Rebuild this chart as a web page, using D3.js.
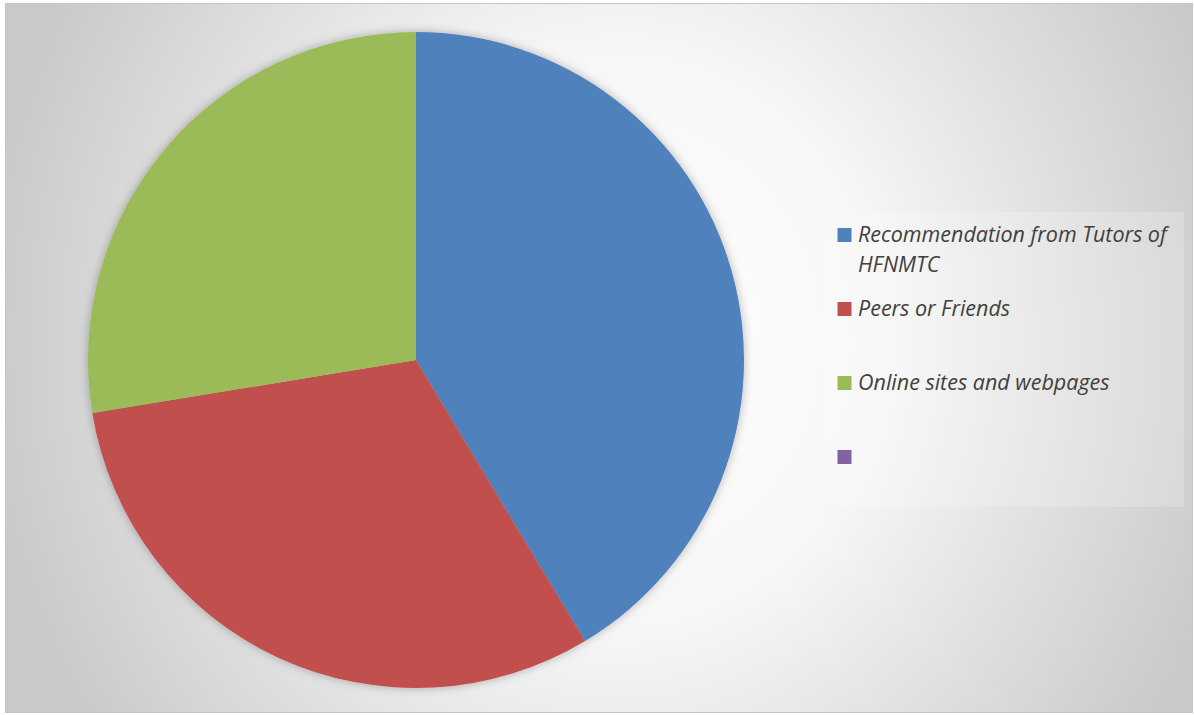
<!DOCTYPE html>
<html>
<head>
<meta charset="utf-8">
<script src="https://cdn.jsdelivr.net/npm/d3@7"></script>
<style>
  html, body { margin: 0; padding: 0; background: #ffffff; }
  svg { display: block; }
</style>
</head>
<body>
<svg id="chart" width="1194" height="715"></svg>
<script>
// data (counts, pie starts at 12 o'clock)
const categories = ['Recommendation from Tutors of HFNMTC', 'Peers or Friends', 'Online sites and webpages', ''];
const values = [12, 9, 8, 0];
const colors = ['#4F81BD', '#C0504D', '#9BBB59', '#8064A2'];

const W = 1194, H = 715;
const svg = d3.select('#chart');
const defs = svg.append('defs');

// chart area background: soft radial fill
const bg = defs.append('radialGradient')
  .attr('id', 'bgGrad')
  .attr('gradientUnits', 'userSpaceOnUse')
  .attr('cx', 0).attr('cy', 0).attr('r', 1)
  .attr('gradientTransform', 'translate(620,340) scale(640,700)');
bg.append('stop').attr('offset', 0).attr('stop-color', '#ffffff');
bg.append('stop').attr('offset', 0.42).attr('stop-color', '#f6f6f6');
bg.append('stop').attr('offset', 0.75).attr('stop-color', '#dcdcdc');
bg.append('stop').attr('offset', 1).attr('stop-color', '#c9c9c9');

const shadow = defs.append('filter')
  .attr('id', 'pieShadow')
  .attr('x', '-10%').attr('y', '-10%')
  .attr('width', '120%').attr('height', '120%');
shadow.append('feDropShadow')
  .attr('dx', 0).attr('dy', 0)
  .attr('stdDeviation', 5)
  .attr('flood-color', '#000')
  .attr('flood-opacity', 0.28);

svg.append('rect')
  .attr('x', 5.5).attr('y', 3.5)
  .attr('width', 1187).attr('height', 709)
  .attr('fill', 'url(#bgGrad)')
  .attr('stroke', '#c4c4c4')
  .attr('stroke-width', 1);

// pie
const cx = 416, cy = 360, r = 328;
const arcs = d3.pie().sort(null).value(d => d)(values);
const arc = d3.arc().innerRadius(0).outerRadius(r);

const pieG = svg.append('g')
  .attr('transform', `translate(${cx},${cy})`)
  .attr('filter', 'url(#pieShadow)');

pieG.selectAll('path')
  .data(arcs)
  .enter()
  .append('path')
  .attr('d', arc)
  .attr('fill', (d, i) => colors[i]);

// legend
const lx = 825, ly = 212, lw = 359, lh = 295;
const legend = svg.append('g');
legend.append('rect')
  .attr('x', lx).attr('y', ly)
  .attr('width', lw).attr('height', lh)
  .attr('fill', '#ffffff')
  .attr('fill-opacity', 0.2);

const rowGap = 74, box = 14, lineH = 29.5, maxW = 340;
categories.forEach((c, i) => {
  const top = 228 + i * rowGap;
  legend.append('rect')
    .attr('x', 837.5).attr('y', top)
    .attr('width', box).attr('height', box)
    .attr('fill', colors[i]);

  const txt = legend.append('text')
    .attr('x', 858)
    .attr('y', top + 14)
    .attr('font-family', '"Open Sans", Lato, sans-serif')
    .attr('font-style', 'italic')
    .attr('font-size', 21.5)
    .attr('fill', '#404040');

  // simple word wrap
  const words = c.split(' ').filter(w => w.length);
  let line = [];
  let tspan = txt.append('tspan').attr('x', 858);
  words.forEach(w => {
    line.push(w);
    tspan.text(line.join(' '));
    if (tspan.node().getComputedTextLength() > maxW && line.length > 1) {
      line.pop();
      tspan.text(line.join(' '));
      line = [w];
      tspan = txt.append('tspan').attr('x', 858).attr('dy', lineH).text(w);
    }
  });
});
</script>
</body>
</html>
